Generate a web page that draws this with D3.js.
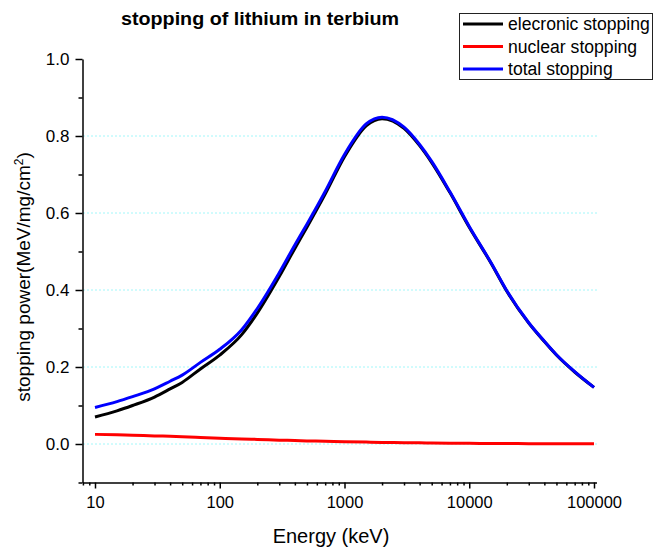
<!DOCTYPE html>
<meta charset="utf-8">
<head>
  <style>
    html, body { margin: 0; padding: 0; background: #fff; }
    svg { font-family: Arial, 'Liberation Sans', sans-serif; display: block; }
  </style>
  <script src="https://d3js.org/d3.v7.min.js"></script>
</head>
<body>
  <div id="chart"></div>
  <script>
    // Energy grid (keV) and stopping powers (MeV/mg/cm2)
    const energy = [10, 15, 20, 30, 40, 50, 70, 100, 150, 200, 300, 400, 500, 700,
      1000, 1500, 2000, 3000, 4000, 5000, 7000, 10000, 15000, 20000, 30000, 40000,
      50000, 70000, 100000];
    const electronic = [0.070, 0.086, 0.100, 0.122, 0.143, 0.160, 0.195, 0.231, 0.284, 0.340,
      0.435, 0.508, 0.563, 0.649, 0.746, 0.827, 0.845, 0.820, 0.775, 0.731, 0.653, 0.563,
      0.469, 0.397, 0.314, 0.266, 0.231, 0.187, 0.147];
    const nuclear = [0.025, 0.024, 0.023, 0.021, 0.020, 0.019, 0.017, 0.015, 0.013, 0.012,
      0.010, 0.009, 0.008, 0.007, 0.006, 0.005, 0.004, 0.0035, 0.003, 0.0027, 0.0022, 0.0018,
      0.0014, 0.0012, 0.0009, 0.0008, 0.0007, 0.0005, 0.0004];
    const total = [0.095, 0.110, 0.123, 0.143, 0.163, 0.179, 0.212, 0.246, 0.297, 0.352,
      0.445, 0.517, 0.571, 0.656, 0.752, 0.832, 0.849, 0.823, 0.778, 0.734, 0.655, 0.565,
      0.470, 0.398, 0.315, 0.267, 0.232, 0.188, 0.147];

    const seriesNames = ["elecronic stopping", "nuclear stopping", "total stopping"];
    const seriesColors = ["#000000", "#ff0000", "#0000ff"];
    const xMajorTicks = [10, 100, 1000, 10000, 100000];
    const yMajorTicks = [0.0, 0.2, 0.4, 0.6, 0.8, 1.0];
    const yMinorTicks = [-0.1, 0.1, 0.3, 0.5, 0.7, 0.9];
    const gridValues = [0.0, 0.2, 0.4, 0.6, 0.8];

    const W = 655, H = 548;
    const svg = d3.select("#chart").append("svg")
      .attr("width", W).attr("height", H);

    // scales: decades 10 -> 95px, 1e5 -> 594px
    const xs = d3.scaleLog().domain([10, 1e5]).range([95, 594]);
    const left = 82.5, right = 596.5;
    const x = d3.scaleLog().domain([xs.invert(left), xs.invert(right)]).range([left, right]);
    const y = d3.scaleLinear().domain([-0.1, 1.0]).range([482.5, 59]);

    // dotted grid
    svg.append("g").selectAll("line")
      .data(gridValues)
      .join("line")
      .attr("x1", left + 1).attr("x2", right)
      .attr("y1", d => y(d)).attr("y2", d => y(d))
      .attr("stroke", "#44eef4")
      .attr("stroke-width", 1)
      .attr("stroke-dasharray", "1,3");

    // x minor ticks
    const xMinor = [];
    for (let dec = 1; dec <= 1e5; dec *= 10)
      for (let m = 2; m <= 9; m++) {
        const v = dec * m;
        if (v >= x.domain()[0] && v <= x.domain()[1] && v !== 10) xMinor.push(v);
      }

    const xAxisG = svg.append("g").attr("transform", `translate(0,${y(-0.1)})`);
    xAxisG.append("g")
      .call(d3.axisBottom(x).tickValues(xMinor).tickSize(3).tickFormat(""))
      .call(g => g.select(".domain").remove());
    xAxisG.append("g")
      .call(d3.axisBottom(x).tickValues(xMajorTicks).tickSizeInner(6).tickSizeOuter(0)
        .tickPadding(8).tickFormat(d3.format("d")));
    xAxisG.selectAll("line, path").attr("stroke", "#000").attr("stroke-width", 1.5);
    xAxisG.selectAll("text").style("font-size", "16.5px").attr("fill", "#000");

    const yAxisG = svg.append("g").attr("transform", `translate(${left},0)`);
    yAxisG.append("g")
      .call(d3.axisLeft(y).tickValues(yMinorTicks).tickSize(4).tickFormat(""))
      .call(g => g.select(".domain").remove());
    yAxisG.append("g")
      .call(d3.axisLeft(y).tickValues(yMajorTicks).tickSizeInner(7).tickSizeOuter(0)
        .tickPadding(6).tickFormat(d3.format(".1f")));
    yAxisG.selectAll("line, path").attr("stroke", "#000").attr("stroke-width", 1.5);
    yAxisG.selectAll("text").style("font-size", "17px").attr("fill", "#000");

    // curves
    const line = d3.line()
      .x(d => x(d[0]))
      .y(d => y(d[1]))
      .curve(d3.curveMonotoneX);

    const series = [electronic, nuclear, total];
    series.forEach((vals, i) => {
      svg.append("path")
        .datum(energy.map((e, j) => [e, vals[j]]))
        .attr("fill", "none")
        .attr("stroke", seriesColors[i])
        .attr("stroke-width", 3)
        .attr("d", line);
    });

    // title
    svg.append("text")
      .attr("x", 260).attr("y", 25)
      .attr("text-anchor", "middle")
      .attr("textLength", 278).attr("lengthAdjust", "spacingAndGlyphs")
      .style("font-size", "18px").style("font-weight", "bold")
      .text("stopping of lithium in terbium");

    // axis titles
    svg.append("text")
      .attr("x", 331).attr("y", 543)
      .attr("text-anchor", "middle")
      .style("font-size", "20px")
      .text("Energy (keV)");

    const yl = svg.append("text")
      .attr("transform", "translate(30,277) rotate(-90)")
      .attr("text-anchor", "middle")
      .style("font-size", "19px");
    yl.append("tspan").text("stopping power(MeV/mg/cm");
    yl.append("tspan").attr("dy", -7).style("font-size", "12px").text("2");
    yl.append("tspan").attr("dy", 7).text(")");

    // legend
    const lg = svg.append("g");
    lg.append("rect")
      .attr("x", 459.5).attr("y", 13.5).attr("width", 193).attr("height", 66)
      .attr("fill", "#fff").attr("stroke", "#222").attr("stroke-width", 1);
    seriesNames.forEach((name, i) => {
      const cy = 24 + i * 22.5;
      lg.append("line")
        .attr("x1", 463).attr("x2", 503).attr("y1", cy).attr("y2", cy)
        .attr("stroke", seriesColors[i]).attr("stroke-width", 3);
      lg.append("text")
        .attr("x", 508).attr("y", cy + 6)
        .style("font-size", "17.6px")
        .text(name);
    });
  </script>
</body>
